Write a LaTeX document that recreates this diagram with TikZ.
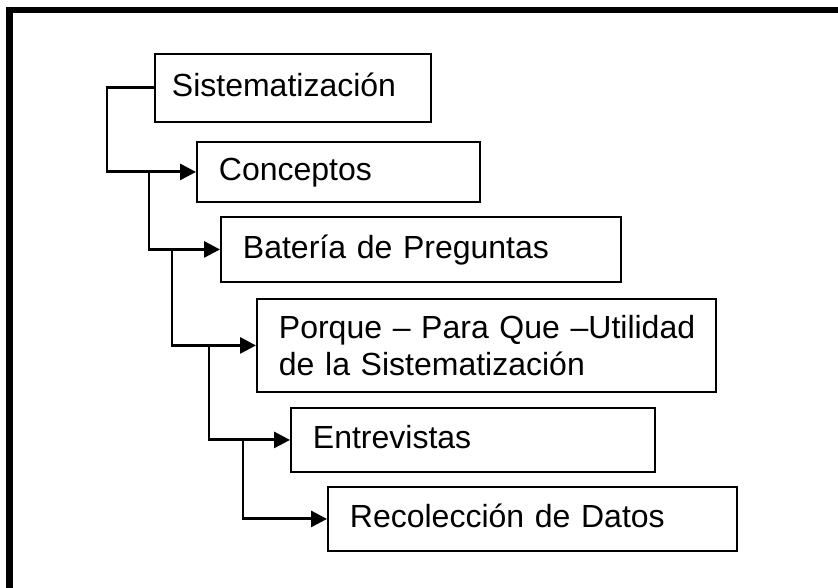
\documentclass[tikz,border=0pt]{standalone}
\usepackage{fontspec}
\setmainfont{Liberation Sans}
\usetikzlibrary{arrows.meta}
\begin{document}
\begin{tikzpicture}[x=0.75pt,y=-0.75pt,
  box/.style={draw, line width=1.4pt, anchor=north west, align=left,
    inner xsep=16.5pt, inner ysep=0pt, text height=17pt, text depth=4pt,
    font=\fontsize{24}{27.75}\selectfont},
  conn/.style={line width=2.2pt, -{Triangle[length=12pt,width=12pt]}}]
\clip (0,0) rectangle (838,587);
\fill[white] (0,0) rectangle (838,587);
\draw[line width=5pt] (9.5,10) rectangle (870,630);
% boxes
\node[box, inner xsep=12.75pt, text width=181.5pt, minimum height=51pt] (b1) at (154,53) {Sistematización};
\node[box, text width=179.25pt, minimum height=45pt] (b2) at (196,141) {Conceptos};
\node[box, text width=267pt, minimum height=48.75pt] (b3) at (220,216) {Batería de Preguntas};
\node[box, text width=311.25pt, text depth=27.5pt, minimum height=69.75pt] (b4) at (256,298) {\mbox{Porque – Para Que –Utilidad}\\\mbox{de la Sistematización}};
\node[box, text width=240pt, minimum height=48pt] (b5) at (290,407) {Entrevistas};
\node[box, text width=273.75pt, minimum height=48pt] (b6) at (327,486) {Recolección de Datos};
% junction columns
\coordinate (j0) at (107,0);
\coordinate (j1) at (149,0);
\coordinate (j2) at (172,0);
\coordinate (j3) at (209,0);
\coordinate (j4) at (243,0);
% connectors
\draw[conn] (b1.west) -- (j0 |- b1.west) |- (b2.west);
\draw[conn] (j1 |- b2.west) |- (b3.west);
\draw[conn] (j2 |- b3.west) |- (b4.west);
\draw[conn] (j3 |- b4.west) |- (b5.west);
\draw[conn] (j4 |- b5.west) |- (b6.west);
\end{tikzpicture}
\end{document}
